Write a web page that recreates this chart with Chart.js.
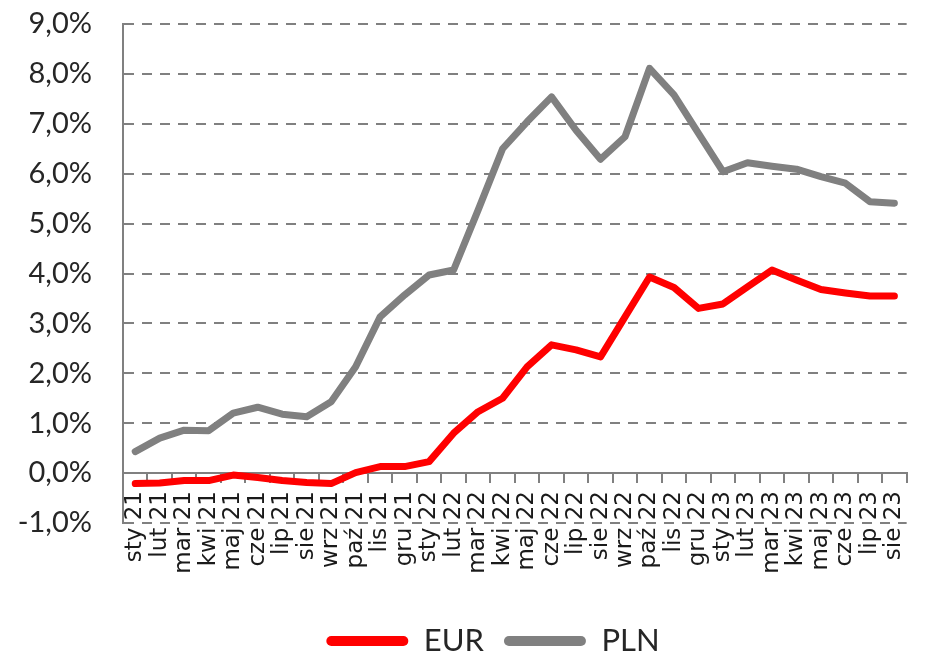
<!DOCTYPE html>
<html>
<head>
<meta charset="utf-8">
<script src="https://cdn.jsdelivr.net/npm/chart.js@4"></script>
<style>
  html, body { margin: 0; padding: 0; background: #fff; }
  #wrap { width: 931px; height: 658px; }
</style>
</head>
<body>
<div id="wrap"><canvas id="myChart"></canvas></div>
<script>
const miesiace = ['sty', 'lut', 'mar', 'kwi', 'maj', 'cze', 'lip', 'sie', 'wrz', 'paź', 'lis', 'gru'];
const etykiety = [];
['21', '22', '23'].forEach(rok => {
    miesiace.forEach(m => etykiety.push(m + ' ' + rok));
});
const kategorie = etykiety.slice(0, 32);

const eur = [-0.21, -0.20, -0.15, -0.15, -0.04, -0.09, -0.15, -0.19, -0.21, 0.01, 0.13, 0.13,
             0.23, 0.80, 1.23, 1.50, 2.13, 2.57, 2.47, 2.33, 3.13, 3.93, 3.72, 3.30,
             3.39, 3.73, 4.07, 3.87, 3.68, 3.61, 3.55, 3.55];
const pln = [0.43, 0.70, 0.86, 0.85, 1.20, 1.32, 1.18, 1.13, 1.43, 2.13, 3.13, 3.57,
             3.97, 4.07, 5.27, 6.50, 7.04, 7.54, 6.87, 6.29, 6.74, 8.11, 7.58, 6.81,
             6.04, 6.22, 6.15, 6.09, 5.94, 5.81, 5.44, 5.41];

const szary = '#808080';
const tekst = '#262626';

// legenda w oryginale jest lekko przesunięta w prawo
const przesunLegende = {
    id: 'przesunLegende',
    afterLayout(chart) {
        chart.legend.left += 23;
        chart.legend.right += 23;
    }
};

const ctx = document.getElementById('myChart');
new Chart(ctx, {
    type: 'line',
    data: {
        labels: kategorie,
        datasets: [{
            label: 'EUR',
            data: eur,
            borderColor: '#ff0000',
            backgroundColor: '#ff0000',
            borderWidth: 7,
            pointRadius: 0,
            tension: 0,
            borderCapStyle: 'round',
            borderJoinStyle: 'round'
        }, {
            label: 'PLN',
            data: pln,
            borderColor: szary,
            backgroundColor: szary,
            borderWidth: 7,
            pointRadius: 0,
            tension: 0,
            borderCapStyle: 'round',
            borderJoinStyle: 'round'
        }]
    },
    plugins: [przesunLegende],
    options: {
        responsive: true,
        maintainAspectRatio: false,
        animation: false,
        layout: { padding: { left: 5, right: -4, top: 24, bottom: -8.5 } },
        plugins: {
            tooltip: { enabled: false },
            legend: {
                position: 'bottom',
                title: { display: true, text: ' ', color: 'rgba(0,0,0,0)', font: { size: 10, lineHeight: 1 }, padding: { top: 72.5, bottom: 0 } },
                labels: {
                    boxWidth: 82,
                    boxHeight: 10,
                    padding: 20,
                    useBorderRadius: true,
                    borderRadius: 5,
                    color: tekst,
                    font: { family: 'Lato', size: 31 },
                    generateLabels: chart => {
                        const items = Chart.defaults.plugins.legend.labels.generateLabels(chart);
                        items.forEach(it => { it.lineWidth = 0; });
                        return items;
                    }
                }
            }
        },
        scales: {
            x: {
                position: { y: 0 },
                offset: true,
                grid: { drawOnChartArea: false, drawTicks: true, tickLength: 9, color: szary, lineWidth: 2, offset: true },
                border: { display: true, color: szary, width: 2 },
                ticks: {
                    autoSkip: false,
                    minRotation: 90,
                    maxRotation: 90,
                    padding: 9,
                    color: '#1a1a1a',
                    font: { family: '"DejaVu Sans", Verdana, sans-serif', size: 23 }
                }
            },
            y: {
                min: -1,
                max: 9,
                afterFit: scale => {
                    scale.width = 118;
                    // padding etykiet nie powinien przesuwać obszaru wykresu
                    scale.paddingTop = 13;
                    scale.paddingBottom = 13;
                },
                grid: { color: szary, lineWidth: 2, drawTicks: false },
                border: { display: true, color: szary, width: 2, dash: [10, 8] },
                ticks: {
                    stepSize: 1,
                    padding: 31,
                    color: tekst,
                    font: { family: 'Lato', size: 29 },
                    callback: v => v.toFixed(1).replace('.', ',') + '%'
                }
            }
        }
    }
});
</script>
</body>
</html>
